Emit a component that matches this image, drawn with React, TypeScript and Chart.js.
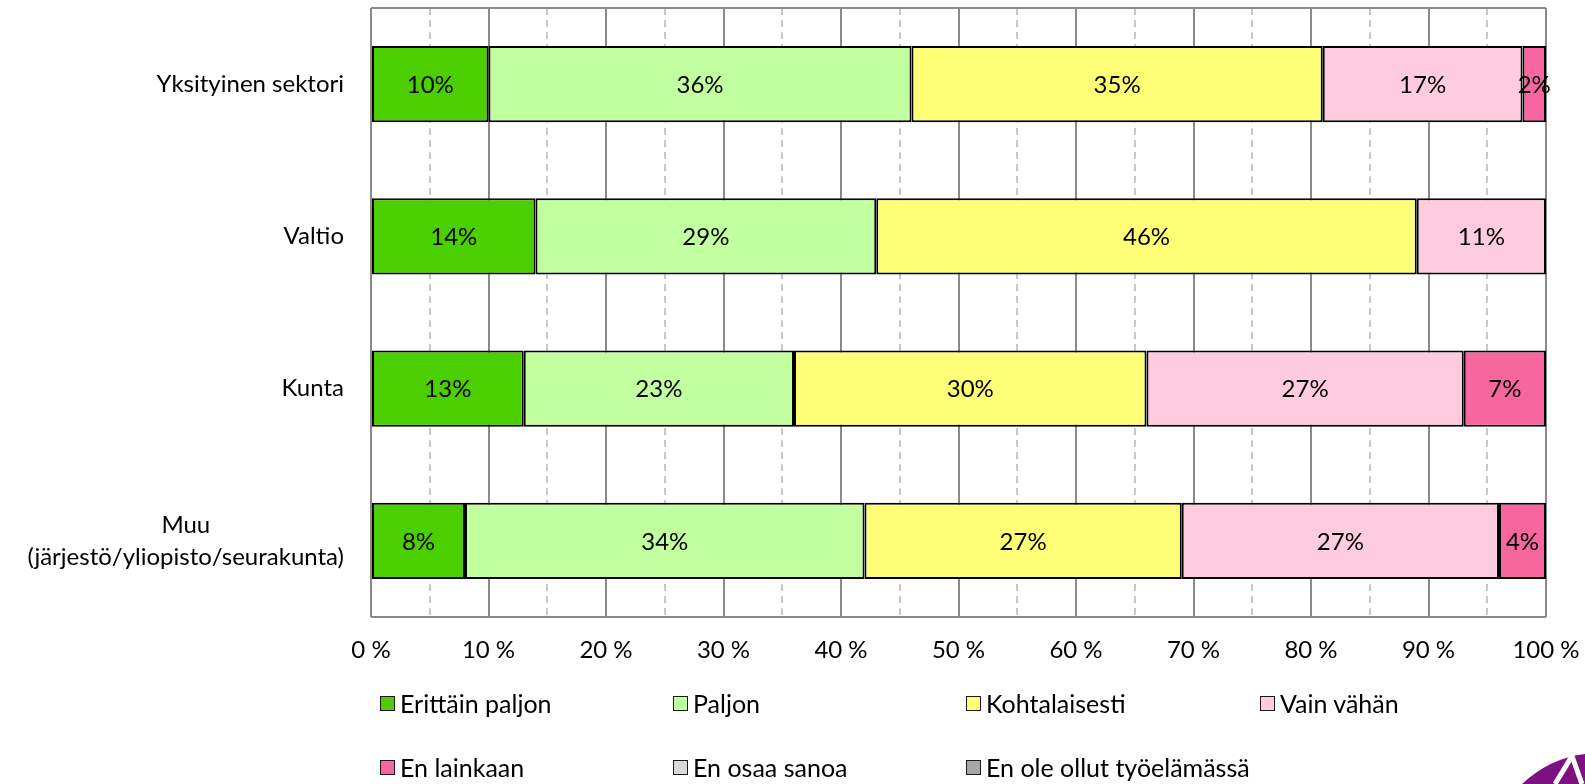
import React, { useEffect, useRef } from "react";
import { Chart, registerables } from "chart.js";

Chart.register(...registerables);

const categories: string[][] = [
  ["Yksityinen sektori"],
  ["Valtio"],
  ["Kunta"],
  ["Muu", "(järjestö/yliopisto/seurakunta)"],
];

const seriesNames = [
  "Erittäin paljon",
  "Paljon",
  "Kohtalaisesti",
  "Vain vähän",
  "En lainkaan",
  "En osaa sanoa",
  "En ole ollut työelämässä",
];

const erittainPaljon = [10, 14, 13, 8];
const paljon = [36, 29, 23, 34];
const kohtalaisesti = [35, 46, 30, 27];
const vainVahan = [17, 11, 27, 27];
const enLainkaan = [2, 0, 7, 4];
const enOsaaSanoa = [0, 0, 0, 0];
const enOleOllut = [0, 0, 0, 0];

const seriesValues = [erittainPaljon, paljon, kohtalaisesti, vainVahan, enLainkaan, enOsaaSanoa, enOleOllut];
const seriesColors = ["#4CCF00", "#C2FF9E", "#FFFF77", "#FFCCDF", "#F7669E", "#D9D9D9", "#A6A6A6"];

const xTicks = [0, 10, 20, 30, 40, 50, 60, 70, 80, 90, 100];

const FONT = "Lato, 'Open Sans', sans-serif";
const FS = 24;

const decorPlugin = {
  id: "decor",
  beforeDatasetsDraw(chart: any) {
    const { ctx, chartArea, scales } = chart;
    const x = scales.x;
    ctx.save();
    ctx.strokeStyle = "#C8C8C8";
    ctx.lineWidth = 2;
    ctx.setLineDash([7, 5]);
    for (let v = 5; v < 100; v += 10) {
      const px = Math.round(x.getPixelForValue(v));
      ctx.beginPath();
      ctx.moveTo(px, chartArea.top);
      ctx.lineTo(px, chartArea.bottom);
      ctx.stroke();
    }
    ctx.setLineDash([]);
    ctx.strokeStyle = "#8A8A8A";
    ctx.lineWidth = 2;
    ctx.beginPath();
    ctx.moveTo(chartArea.left, chartArea.top);
    ctx.lineTo(chartArea.right, chartArea.top);
    ctx.moveTo(chartArea.left, chartArea.bottom);
    ctx.lineTo(chartArea.right, chartArea.bottom);
    ctx.stroke();
    ctx.restore();
  },
  afterDatasetsDraw(chart: any) {
    const { ctx, scales } = chart;
    ctx.save();
    ctx.font = `${FS}px ${FONT}`;
    ctx.fillStyle = "#000";
    ctx.textAlign = "center";
    ctx.textBaseline = "middle";
    chart.data.datasets.forEach((ds: any, di: number) => {
      const meta = chart.getDatasetMeta(di);
      meta.data.forEach((el: any, i: number) => {
        const v = ds.data[i];
        if (!v) return;
        ctx.fillText(`${v}%`, (el.x + el.base) / 2, el.y + 1);
      });
    });
    // category labels
    const y = scales.y;
    const rightEdge = 344;
    const lh = 32;
    categories.forEach((lines, i) => {
      const cy = y.getPixelForValue(i);
      let maxW = 0;
      lines.forEach((l) => (maxW = Math.max(maxW, ctx.measureText(l).width)));
      const cx = rightEdge - maxW / 2;
      lines.forEach((l, li) => {
        ctx.fillText(l, cx, cy + (li - (lines.length - 1) / 2) * lh);
      });
    });
    ctx.restore();
  },
};

export default function App() {
  const ref = useRef<HTMLCanvasElement>(null);
  useEffect(() => {
    const chart = new Chart(ref.current!, {
      type: "bar",
      data: {
        labels: categories.map((c) => c.join(" ")),
        datasets: seriesNames.map((name, i) => ({
          label: name,
          data: seriesValues[i],
          backgroundColor: seriesColors[i],
          borderColor: "#000",
          borderWidth: i < 5 ? 2 : 0,
          borderSkipped: false,
          categoryPercentage: 0.5,
          barPercentage: 1,
        })),
      },
      options: {
        indexAxis: "y",
        animation: false,
        responsive: false,
        maintainAspectRatio: false,
        layout: { padding: { top: 8, right: 39, left: 0, bottom: 0 } },
        plugins: { legend: { display: false }, tooltip: { enabled: false } },
        scales: {
          x: {
            stacked: true,
            min: 0,
            max: 100,
            afterBuildTicks: (s: any) => {
              s.ticks = xTicks.map((v) => ({ value: v }));
            },
            afterFit: (s: any) => {
              s.height = 167;
              s.paddingLeft = 0;
              s.paddingRight = 0;
            },
            ticks: {
              callback: (v: any) => `${v} %`,
              font: { family: FONT, size: FS },
              color: "#000",
              padding: 19,
              maxRotation: 0,
              autoSkip: false,
            },
            grid: { color: "#8A8A8A", lineWidth: 2, drawTicks: false },
            border: { display: false },
          },
          y: {
            stacked: true,
            afterFit: (s: any) => {
              s.width = 371;
              s.paddingTop = 0;
              s.paddingBottom = 0;
            },
            ticks: { display: false },
            grid: { display: false },
            border: { display: false },
          },
        },
      },
      plugins: [decorPlugin],
    } as any);
    return () => chart.destroy();
  }, []);

  const legendCols = [380, 673, 966, 1260];
  const legendRows = [703, 767];

  return (
    <div style={{ position: "absolute", left: 0, top: 0, width: 1585, height: 784, overflow: "hidden", background: "#fff" }}>
      <canvas ref={ref} width={1585} height={784} style={{ position: "absolute", left: 0, top: 0 }} />
      {seriesNames.map((name, i) => {
        const left = legendCols[i % 4];
        const top = legendRows[Math.floor(i / 4)];
        return (
          <div
            key={name}
            style={{
              position: "absolute",
              left,
              top: top - 16,
              height: 32,
              display: "flex",
              alignItems: "center",
              fontFamily: FONT,
              fontSize: 25,
              color: "#000",
              whiteSpace: "nowrap",
            }}
          >
            <span
              style={{
                display: "inline-block",
                width: 13,
                height: 13,
                background: seriesColors[i],
                border: "1.5px solid #1a1a1a",
                marginRight: 5,
              }}
            />
            {name}
          </div>
        );
      })}
      <svg style={{ position: "absolute", left: 1510, top: 740 }} width={75} height={44}>
        <path d="M 12 44 Q 40 18 75 14 L 75 44 Z" fill="#7B1280" />
        <path d="M 45 44 L 62 16" stroke="#fff" strokeWidth={5} />
        <path d="M 62 16 L 72 44" stroke="#fff" strokeWidth={5} />
      </svg>
    </div>
  );
}
